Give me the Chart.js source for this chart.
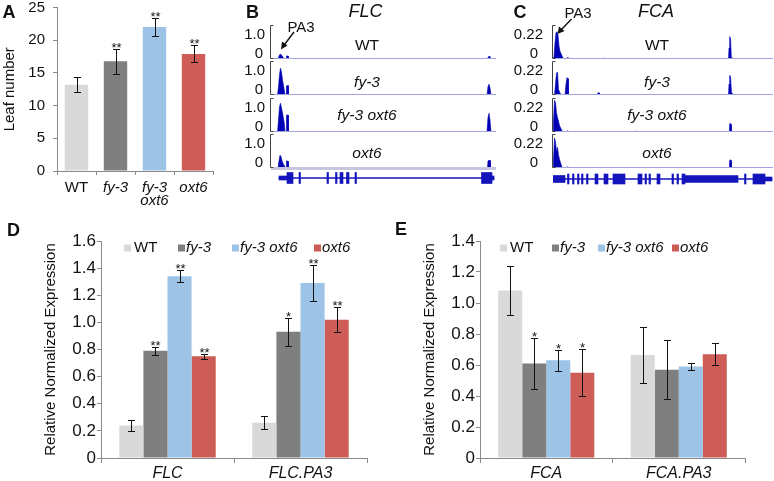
<!DOCTYPE html>
<html><head><meta charset="utf-8">
<script src="https://cdn.jsdelivr.net/npm/chart.js@4.4.1/dist/chart.umd.min.js"></script>
<style>
html,body{margin:0;padding:0;background:#fff}
#root{position:relative;width:774px;height:481px;overflow:hidden;font-family:"Liberation Sans",Arial,sans-serif;color:#111}
canvas{position:absolute}
.lbl{position:absolute;white-space:nowrap;line-height:1;transform:translate(-50%,-50%)}
svg{position:absolute;left:0;top:0}
</style></head><body><div id="root"></div>
<script>
// ---------------- DATA ----------------
const GENOTYPES = ['WT', 'fy-3', 'fy-3 oxt6', 'oxt6'];

// Panel A: flowering time (leaf number)
const leafLabels = [['WT'], ['fy-3'], ['fy-3', 'oxt6'], ['oxt6']];
const leafMean = [13.2, 16.8, 22.0, 17.9];
const leafErr = [1.1, 1.9, 1.4, 1.3];
const leafSig = ['', '**', '**', '**'];

// Panel D: FLC expression
const flcCats = ['FLC', 'FLC.PA3'];
const flcWT = [0.24, 0.26];
const flcFy3 = [0.79, 0.93];
const flcFy3Oxt6 = [1.34, 1.29];
const flcOxt6 = [0.75, 1.02];
const flcErrWT = [0.04, 0.047];
const flcErrFy3 = [0.028, 0.104];
const flcErrFy3Oxt6 = [0.043, 0.133];
const flcErrOxt6 = [0.017, 0.093];
const flcSigWT = ['', ''];
const flcSigFy3 = ['**', '*'];
const flcSigFy3Oxt6 = ['**', '**'];
const flcSigOxt6 = ['**', '**'];

// Panel E: FCA expression
const fcaCats = ['FCA', 'FCA.PA3'];
const fcaWT = [1.08, 0.665];
const fcaFy3 = [0.61, 0.57];
const fcaFy3Oxt6 = [0.63, 0.59];
const fcaOxt6 = [0.55, 0.67];
const fcaErrWT = [0.16, 0.178];
const fcaErrFy3 = [0.166, 0.192];
const fcaErrFy3Oxt6 = [0.068, 0.024];
const fcaErrOxt6 = [0.15, 0.072];
const fcaSigWT = ['', ''];
const fcaSigFy3 = ['*', ''];
const fcaSigFy3Oxt6 = ['*', ''];
const fcaSigOxt6 = ['*', ''];

// Panel B: FLC coverage tracks (position, coverage); scale label 1.0
const flcRange = [0, 225];
const flcScaleLabel = 1.0;
const flcCovWT = [[0,0],[7,0],[8,0.12],[9,0.2],[10,0.19],[11,0.14],[12,0.08],[13,0],[15,0],[15.5,0.13],[17,0.12],[17.5,0],[216,0],[217,0.06],[218,0.12],[219,0.1],[220,0],[225,0]];
const flcCovFy3 = [[0,0],[6.5,0],[7.5,0.35],[8.5,0.85],[9.5,1.12],[10.5,0.95],[11.5,0.62],[12.5,0.4],[13.5,0.15],[14,0],[15,0],[15.5,0.38],[17,0.4],[17.5,0],[216,0],[217,0.35],[218,0.45],[219,0.3],[220,0],[225,0]];
const flcCovFy3Oxt6 = [[0,0],[6.5,0],[7.5,0.5],[8.5,1.05],[9.5,1.2],[10.5,1.0],[11.5,0.8],[12.5,0.55],[13.5,0.3],[14,0],[15,0],[15.5,0.7],[17,0.71],[17.5,0],[214,0],[216,0.02],[217,0.6],[218,0.78],[219,0.5],[220,0],[225,0]];
const flcCovOxt6 = [[0,0],[7,0],[8,0.3],[9,0.53],[10,0.48],[11,0.3],[12,0.2],[13,0.1],[13.5,0],[15,0],[15.5,0.3],[17,0.28],[17.5,0],[216.5,0],[217,0.3],[219,0.32],[219.5,0],[225,0]];
const flcIntron = [[8, 223]];
const flcUtr = [[8, 16], [221, 223]];
const flcExon = [[16,22],[28,29.5],[56,57.5],[64.5,66],[69,72],[75.5,78],[84,85.5],[210.5,221]];

// Panel C: FCA coverage tracks; scale label 0.22
const fcaRange = [0, 220];
const fcaScaleLabel = 0.22;
const fcaCovWT = [[0,0],[1,0.02],[2,0.15],[3,0.24],[4,0.25],[5,0.22],[6,0.12],[7,0.07],[8,0.05],[9,0.03],[10,0.01],[11,0],[13.5,0],[14,0.012],[15,0.012],[15.5,0],[50.5,0],[51,0.008],[52,0.008],[52.5,0],[123.5,0],[124,0.006],[125,0.006],[125.5,0],[175.5,0],[176,0.1],[176.7,0.205],[177.5,0.19],[178.3,0.02],[179,0.01],[181,0],[220,0]];
const fcaCovFy3 = [[0,0],[1.5,0],[2.5,0.1],[3.5,0.2],[4.5,0.21],[5.5,0.05],[6.5,0.03],[7.5,0.01],[8,0],[12,0],[13,0.1],[14,0.16],[15,0.15],[15.5,0],[44.5,0],[45,0.02],[46,0.02],[46.5,0],[175.5,0],[176,0.1],[176.7,0.18],[177.5,0.17],[178.5,0.02],[180,0.01],[181,0],[220,0]];
const fcaCovFy3Oxt6 = [[0,0],[0.5,0.1],[1.5,0.29],[2.5,0.27],[3.5,0.18],[4.5,0.13],[5.5,0.1],[6.5,0.06],[7.5,0.04],[8.5,0.02],[9.5,0],[13.5,0],[14,0.01],[15,0.01],[15.5,0],[82.5,0],[83,0.008],[84,0.008],[84.5,0],[176,0],[176.5,0.06],[177,0.08],[178,0.07],[178.5,0],[220,0]];
const fcaCovOxt6 = [[0,0],[0.5,0.08],[1.5,0.275],[2.5,0.24],[3.5,0.15],[4.5,0.19],[5.5,0.12],[6.5,0.08],[7.5,0.05],[8.5,0.02],[9.5,0],[13.5,0],[14,0.01],[15,0.01],[15.5,0],[176,0],[176.5,0.05],[177,0.076],[178,0.07],[178.5,0],[220,0]];
const fcaIntron = [[0, 219]];
const fcaUtr = [[212, 219]];
const fcaMid = [[132, 185], [0, 12]];
const fcaExon = [[14.5,16],[19.5,21],[24.5,26],[28.5,30],[33.5,35],[42,45],[51,55],[60,72],[85,89],[92,93.5],[96,97.5],[104,107],[119,120.5],[124,125.5],[129,132],[191.5,193],[200,212]];

// ---------------- STYLE ----------------
const AXIS = '#8a8a8a';
const GENO_COLORS = ['#d9d9d9', '#7f7f7f', '#9dc3e6', '#cd5d56'];
const TRACK_BLUE = '#0000b4';
const GENE_BLUE = '#1414bc';
const FONT = '"Liberation Sans", Arial, Helvetica, sans-serif';
Chart.defaults.font.family = FONT;
Chart.defaults.color = '#111';

const root = document.getElementById('root');
function addCanvas(left, top, w, h) {
  const c = document.createElement('canvas');
  c.width = w; c.height = h;
  c.style.left = left + 'px'; c.style.top = top + 'px';
  c.style.width = w + 'px'; c.style.height = h + 'px';
  root.appendChild(c);
  return c;
}
function addText(text, x, y, size, style) {
  const d = document.createElement('div');
  d.className = 'lbl';
  d.textContent = text;
  d.style.left = x + 'px'; d.style.top = y + 'px';
  d.style.fontSize = size + 'px';
  if (style === 'bold') d.style.fontWeight = 'bold';
  if (style === 'italic') d.style.fontStyle = 'italic';
  root.appendChild(d);
}

// ---------------- PLUGINS ----------------
const errorBarPlugin = {
  id: 'errbars',
  afterDatasetsDraw(chart) {
    const ctx = chart.ctx, ys = chart.scales.y;
    chart.data.datasets.forEach((ds, di) => {
      const meta = chart.getDatasetMeta(di);
      meta.data.forEach((bar, i) => {
        const v = ds.data[i], e = ds.errors[i];
        const yt = Math.round(ys.getPixelForValue(v + e)) + 0.5;
        const yb = Math.round(ys.getPixelForValue(v - e)) + 0.5;
        const x = Math.round(bar.x) + 0.5;
        ctx.save();
        ctx.strokeStyle = '#111'; ctx.lineWidth = 1;
        ctx.beginPath();
        ctx.moveTo(x, yt); ctx.lineTo(x, yb);
        ctx.moveTo(x - 3.5, yt); ctx.lineTo(x + 3.5, yt);
        ctx.moveTo(x - 3.5, yb); ctx.lineTo(x + 3.5, yb);
        ctx.stroke();
        if (ds.sig && ds.sig[i]) {
          ctx.fillStyle = '#111';
          ctx.font = '13px ' + FONT;
          ctx.textAlign = 'center'; ctx.textBaseline = 'alphabetic';
          ctx.fillText(ds.sig[i], x, yt + 2);
        }
        ctx.restore();
      });
    });
  }
};

const legendPlugin = {
  id: 'geneLegend',
  afterDraw(chart, args, o) {
    const ctx = chart.ctx;
    ctx.save();
    chart.data.datasets.forEach((ds, i) => {
      const x = o.xs[i];
      ctx.fillStyle = ds.backgroundColor;
      ctx.fillRect(x, o.y - 3.5, 7, 7);
      ctx.font = (i === 0 ? '' : 'italic ') + '15px ' + FONT;
      ctx.fillStyle = '#111'; ctx.textAlign = 'left'; ctx.textBaseline = 'middle';
      ctx.fillText(ds.label, x + (i === 0 ? 10 : 8), o.y);
    });
    ctx.restore();
  }
};

const trackPlugin = {
  id: 'trackDeco',
  afterDatasetsDraw(chart, args, o) {
    const ctx = chart.ctx, a = chart.chartArea, ys = chart.scales.y;
    ctx.save();
    if (o.thick) { ctx.fillStyle = '#c6c6de'; ctx.fillRect(a.left, a.bottom - 1, a.right - a.left, 3); }
    else { ctx.fillStyle = '#a4a4e2'; ctx.fillRect(a.left, a.bottom - 1, a.right - a.left, 1); }
    ctx.strokeStyle = '#444'; ctx.lineWidth = 1;
    const x0 = Math.round(a.left) - 0.5;
    ctx.beginPath();
    ctx.moveTo(x0 + 3, a.top + 0.5); ctx.lineTo(x0, a.top + 0.5);
    ctx.lineTo(x0, a.bottom - 0.5); ctx.lineTo(x0 + 3, a.bottom - 0.5);
    ctx.stroke();
    ctx.fillStyle = '#111'; ctx.font = '15px ' + FONT;
    ctx.textAlign = 'right'; ctx.textBaseline = 'middle';
    ctx.fillText(o.label, a.left - o.gapTop, ys.getPixelForValue(o.value));
    ctx.fillText('0', a.left - o.gapZero, ys.getPixelForValue(0) - 5);
    ctx.restore();
  }
};

const baseOpts = () => ({ responsive: false, animation: false, events: [], plugins: { legend: { display: false }, tooltip: { enabled: false } } });

// ---------------- PANEL A ----------------
(function () {
  const o = baseOpts();
  o.layout = { padding: { left: 0, right: 7, top: 7.5, bottom: 0 } };
  o.scales = {
    x: {
      grid: { display: true, drawOnChartArea: false, tickLength: 4, color: AXIS, offset: true },
      border: { color: AXIS },
      ticks: { padding: 6.6, color: '#111', font: (c) => ({ size: 15, style: c.index === 0 ? 'normal' : 'italic', lineHeight: 0.85 }) },
      afterFit: s => { s.height = 44; s.paddingLeft = 0; s.paddingRight = 0; }
    },
    y: {
      min: 0, max: 25,
      ticks: { stepSize: 5, padding: 8, color: '#111', font: { size: 15 } },
      grid: { display: true, drawOnChartArea: false, tickLength: 4, color: AXIS },
      border: { color: AXIS },
      title: { display: true, text: 'Leaf number', color: '#111', font: { size: 15 }, padding: { top: 1, bottom: 0 } },
      afterFit: s => { s.width = 57; s.paddingTop = 0; s.paddingBottom = 0; }
    }
  };
  new Chart(addCanvas(0, 0, 220, 215), {
    type: 'bar',
    data: { labels: leafLabels, datasets: [{ label: 'Leaf number', data: leafMean, errors: leafErr, sig: leafSig, backgroundColor: GENO_COLORS, categoryPercentage: 0.6, barPercentage: 1 }] },
    options: o,
    plugins: [errorBarPlugin]
  });
})();

// ---------------- PANELS D & E ----------------
function exprChart(left, top, w, h, area, cats, series, errs, sigs, ymax, titlePad, legendXs) {
  const datasets = GENOTYPES.map((g, k) => ({ label: g, data: series[k], errors: errs[k], sig: sigs[k], backgroundColor: GENO_COLORS[k], barPercentage: 1, categoryPercentage: 0.725 }));
  const o = baseOpts();
  o.layout = { padding: { left: 0, right: w - area.right, top: area.top, bottom: 0 } };
  o.plugins.geneLegend = { xs: legendXs, y: 33 };
  o.scales = {
    x: {
      grid: { display: true, drawOnChartArea: false, tickLength: 5, color: AXIS, offset: true },
      border: { color: AXIS },
      ticks: { padding: 1, color: '#111', font: { size: 16, style: 'italic' } },
      afterFit: s => { s.height = h - area.bottom; s.paddingLeft = 0; s.paddingRight = 0; }
    },
    y: {
      min: 0, max: ymax,
      ticks: { stepSize: 0.2, padding: 1, color: '#111', font: { size: 17 }, callback: v => (Math.abs(v) < 1e-9 ? '0' : v.toFixed(1)) },
      grid: { display: true, drawOnChartArea: false, tickLength: 4, color: AXIS },
      border: { color: AXIS },
      title: { display: true, text: 'Relative Normalized Expression', color: '#111', font: { size: 15 }, padding: { top: titlePad, bottom: 0 } },
      afterFit: s => { s.width = area.left; s.paddingTop = 0; s.paddingBottom = 0; }
    }
  };
  new Chart(addCanvas(left, top, w, h), { type: 'bar', data: { labels: cats, datasets }, options: o, plugins: [errorBarPlugin, legendPlugin] });
}
exprChart(0, 215, 390, 266, { left: 101, right: 367, top: 26, bottom: 243 }, flcCats,
  [flcWT, flcFy3, flcFy3Oxt6, flcOxt6], [flcErrWT, flcErrFy3, flcErrFy3Oxt6, flcErrOxt6],
  [flcSigWT, flcSigFy3, flcSigFy3Oxt6, flcSigOxt6], 1.6, 42, [124, 178, 232, 314]);
exprChart(390, 215, 384, 266, { left: 90, right: 355, top: 26, bottom: 243 }, fcaCats,
  [fcaWT, fcaFy3, fcaFy3Oxt6, fcaOxt6], [fcaErrWT, fcaErrFy3, fcaErrFy3Oxt6, fcaErrOxt6],
  [fcaSigWT, fcaSigFy3, fcaSigFy3Oxt6, fcaSigOxt6], 1.4, 31, [110, 162, 208, 282]);

// ---------------- PANELS B & C (tracks) ----------------
const TRACK_TOPS = [25, 61, 98, 134];
const TRACK_H = 34;
function trackChart(cLeft, cW, axisX, endX, tTop, pts, range, scaleLabel, thick, gapTop, gapZero) {
  const pad = 4;
  const o = baseOpts();
  o.layout = { padding: { left: axisX - cLeft, right: cLeft + cW - endX, top: pad, bottom: pad } };
  o.plugins.trackDeco = { label: scaleLabel === 1 ? '1.0' : String(scaleLabel), value: scaleLabel, thick: thick, gapTop: gapTop, gapZero: gapZero };
  o.scales = {
    x: { type: 'linear', display: false, min: range[0], max: range[1] },
    y: { display: false, min: 0, max: scaleLabel * TRACK_H / 24 }
  };
  new Chart(addCanvas(cLeft, tTop - pad, cW, TRACK_H + 2 * pad), {
    type: 'line',
    data: { datasets: [{ data: pts, borderColor: TRACK_BLUE, backgroundColor: TRACK_BLUE, borderWidth: 0.6, pointRadius: 0, tension: 0, fill: 'origin' }] },
    options: o,
    plugins: [trackPlugin]
  });
}
function geneChart(cLeft, cW, axisX, endX, cTop, range, sets) {
  const o = baseOpts();
  o.indexAxis = 'y';
  o.layout = { padding: { left: axisX - cLeft, right: cLeft + cW - endX, top: 0, bottom: 0 } };
  o.scales = {
    x: { type: 'linear', display: false, min: range[0], max: range[1] },
    y: { display: false }
  };
  const datasets = sets.map(s => ({
    data: s.parts.map(p => ({ y: 'gene', x: p })),
    backgroundColor: GENE_BLUE, borderWidth: 0, barThickness: s.th, grouped: false
  }));
  new Chart(addCanvas(cLeft, cTop, cW, 16), { type: 'bar', data: { labels: ['gene'], datasets }, options: o });
}

[flcCovWT, flcCovFy3, flcCovFy3Oxt6, flcCovOxt6].forEach((pts, k) =>
  trackChart(220, 290, 271, 496, TRACK_TOPS[k], pts, flcRange, flcScaleLabel, k === 3, 6, 8));
geneChart(220, 290, 271, 496, 170, flcRange, [
  { parts: flcIntron, th: 1 }, { parts: flcUtr, th: 4 }, { parts: flcExon, th: 11 }]);

[fcaCovWT, fcaCovFy3, fcaCovFy3Oxt6, fcaCovOxt6].forEach((pts, k) =>
  trackChart(510, 264, 553, 773, TRACK_TOPS[k], pts, fcaRange, fcaScaleLabel, false, 10, 15));
geneChart(510, 264, 553, 773, 171, fcaRange, [
  { parts: fcaIntron, th: 1 }, { parts: fcaUtr, th: 4 }, { parts: fcaMid, th: 7 }, { parts: fcaExon, th: 10 }]);

// ---------------- TEXT ----------------
addText('A', 9, 12, 18, 'bold');
addText('B', 252.5, 12, 18, 'bold');
addText('C', 520, 12, 18, 'bold');
addText('D', 13.5, 229.5, 18, 'bold');
addText('E', 401, 229, 18, 'bold');
addText('FLC', 365.5, 10.5, 18, 'italic');
addText('FCA', 656, 10.5, 18, 'italic');
addText('PA3', 301, 26, 15);
addText('PA3', 578, 12, 15);
const trackLabelY = [45, 82, 114.5, 153];
GENOTYPES.forEach((g, k) => {
  addText(g, 367, trackLabelY[k], 15.5, k === 0 ? '' : 'italic');
  addText(g, 657, trackLabelY[k], 15.5, k === 0 ? '' : 'italic');
});
const NS = 'http://www.w3.org/2000/svg';
const svg = document.createElementNS(NS, 'svg');
svg.setAttribute('width', 774); svg.setAttribute('height', 481);
svg.innerHTML = '<line x1="294" y1="32" x2="284.5" y2="44.5" stroke="#111" stroke-width="1.4"/>' +
  '<polygon points="281,49.5 282,41.5 287.5,45.5" fill="#111"/>' +
  '<line x1="571.5" y1="19" x2="561.5" y2="29.5" stroke="#111" stroke-width="1.4"/>' +
  '<polygon points="557.5,34 559,26.5 564.5,31" fill="#111"/>';
root.appendChild(svg);
</script></body></html>
